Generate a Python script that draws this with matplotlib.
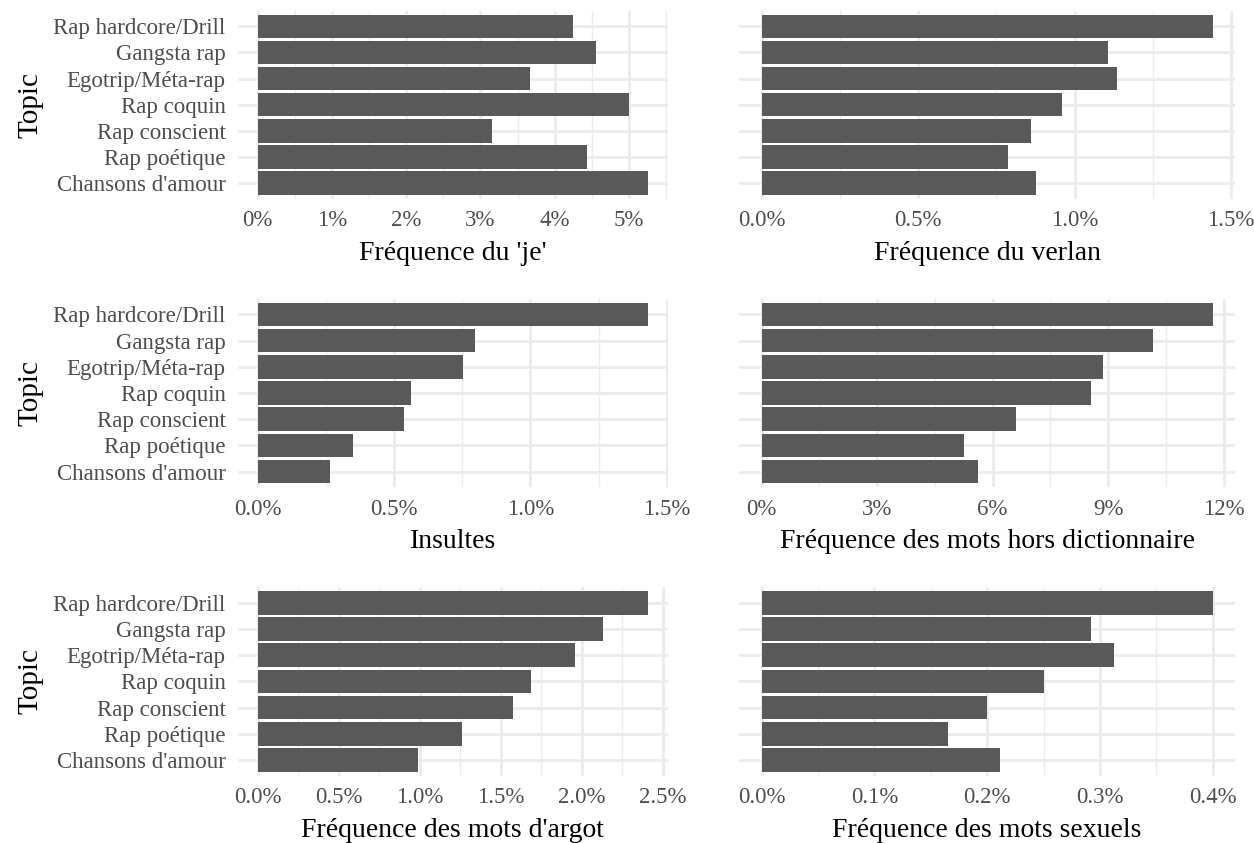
import matplotlib as mpl
mpl.use('Agg')
import matplotlib.pyplot as plt
from matplotlib.ticker import FuncFormatter, MultipleLocator

plt.rcParams['font.family'] = ['Liberation Serif', 'DejaVu Serif']

# topics, bottom to top
topics = ["Chansons d'amour", "Rap poétique", "Rap conscient", "Rap coquin",
          "Egotrip/Méta-rap", "Gangsta rap", "Rap hardcore/Drill"]

# values in percent, same order as topics
freq_je = [5.255, 4.435, 3.159, 5.00, 3.669, 4.556, 4.247]
freq_verlan = [0.877, 0.787, 0.861, 0.960, 1.135, 1.107, 1.441]
insultes = [0.267, 0.351, 0.538, 0.563, 0.754, 0.798, 1.431]
hors_dico = [5.62, 5.26, 6.61, 8.56, 8.87, 10.17, 11.72]
argot = [0.992, 1.263, 1.578, 1.689, 1.960, 2.132, 2.410]
sexuels = [0.2117, 0.1656, 0.2001, 0.2506, 0.3126, 0.2923, 0.400]

panels = [
    (freq_je, "Fréquence du 'je'", 1.0, "{:.0f}%"),
    (freq_verlan, "Fréquence du verlan", 0.5, "{:.1f}%"),
    (insultes, "Insultes", 0.5, "{:.1f}%"),
    (hors_dico, "Fréquence des mots hors dictionnaire", 3.0, "{:.0f}%"),
    (argot, "Fréquence des mots d'argot", 0.5, "{:.1f}%"),
    (sexuels, "Fréquence des mots sexuels", 0.1, "{:.1f}%"),
]

W, H = 1254, 843
fig = plt.figure(figsize=(W / 100, H / 100), dpi=100)
fig.patch.set_facecolor('white')

cols = [(238, 667.5), (739, 1235.3)]
rows = [(10.6, 198.7), (298.6, 487.4), (587, 775.7)]

for i, (vals, title, step, fmt) in enumerate(panels):
    r, c = divmod(i, 2)
    x0, x1 = cols[c]
    y0, y1 = rows[r]
    ax = fig.add_axes([x0 / W, 1 - y1 / H, (x1 - x0) / W, (y1 - y0) / H])
    ax.set_facecolor('white')
    ypos = range(len(topics))
    ax.barh(ypos, vals, height=0.9, color='#595959', zorder=3)
    vmax = max(vals)
    ax.set_xlim(-0.05 * vmax, 1.05 * vmax)
    ax.set_ylim(-0.6, len(topics) - 0.4)

    ax.xaxis.set_major_locator(MultipleLocator(step))
    ax.xaxis.set_minor_locator(MultipleLocator(step / 2))
    ax.xaxis.set_major_formatter(FuncFormatter(lambda v, p, f=fmt: f.format(v)))
    ax.set_yticks(list(ypos))
    if c == 0:
        ax.set_yticklabels(topics)
        ax.set_ylabel('Topic', fontsize=21, labelpad=7)
    else:
        ax.set_yticklabels([])

    ax.grid(True, which='major', color='#EBEBEB', lw=2.0, zorder=0)
    ax.grid(True, which='minor', axis='x', color='#EBEBEB', lw=1.0, zorder=0)
    ax.tick_params(which='both', length=0)
    ax.tick_params(axis='x', labelsize=16.5, labelcolor='#4D4D4D', pad=8)
    ax.tick_params(axis='y', labelsize=16.5, labelcolor='#4D4D4D', pad=9)
    for s in ax.spines.values():
        s.set_visible(False)
    ax.set_xlabel(title, fontsize=20, labelpad=7)

fig.savefig('out.png', dpi=100)
